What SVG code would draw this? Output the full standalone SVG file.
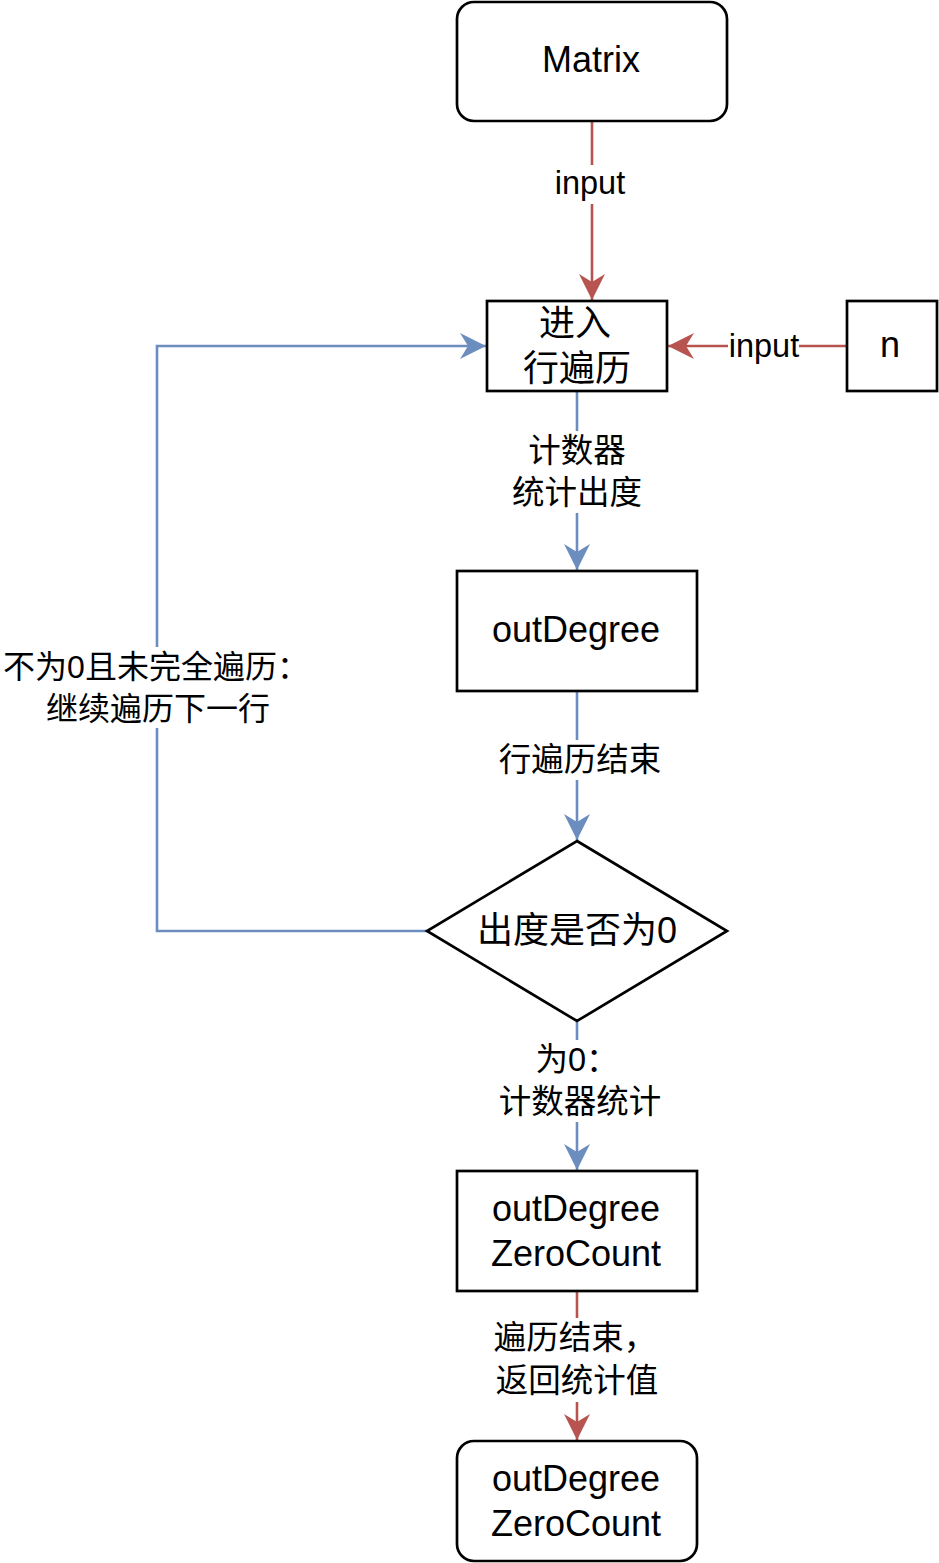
<svg xmlns="http://www.w3.org/2000/svg" width="939" height="1563" viewBox="0 0 939 1563">
<style>
.node{fill:#ffffff;stroke:#000000;stroke-width:2.7}
.nt{font-family:"Liberation Sans","Noto Sans CJK SC",sans-serif;font-size:36px;fill:#000000;text-anchor:middle}
.lt{font-family:"Liberation Sans","Noto Sans CJK SC",sans-serif;font-size:32.5px;fill:#000000;text-anchor:middle}
.red{fill:none;stroke:#b85450;stroke-width:2.6}
.blue{fill:none;stroke:#6c8ebf;stroke-width:2.6}
.bg{fill:#ffffff}
</style>
<defs>
<marker id="ar" markerUnits="userSpaceOnUse" viewBox="0 0 26 26" markerWidth="26" markerHeight="26" refX="26" refY="13" orient="auto">
<path d="M26,13 L0,0 L8,13 L0,26 Z" fill="#b85450"/>
</marker>
<marker id="ab" markerUnits="userSpaceOnUse" viewBox="0 0 26 26" markerWidth="26" markerHeight="26" refX="26" refY="13" orient="auto">
<path d="M26,13 L0,0 L8,13 L0,26 Z" fill="#6c8ebf"/>
</marker>
</defs>
<g id="connectors">
<path class="red" d="M592,121 L592,300" marker-end="url(#ar)"/>
<rect class="bg" x="553" y="165" width="76" height="39"/>
<text class="lt" x="590" y="194">input</text>
<path class="red" d="M847,346 L668,346" marker-end="url(#ar)"/>
<rect class="bg" x="728" y="330" width="71" height="34"/>
<text class="lt" x="764" y="357">input</text>
<path class="blue" d="M577,391 L577,570" marker-end="url(#ab)"/>
<rect class="bg" x="510" y="431" width="135" height="82"/>
<text class="lt" x="577" y="462">计数器</text>
<text class="lt" x="577" y="504">统计出度</text>
<path class="blue" d="M577,691 L577,840" marker-end="url(#ab)"/>
<rect class="bg" x="496" y="740" width="168" height="40"/>
<text class="lt" x="580" y="771">行遍历结束</text>
<path class="blue" d="M427,931 L157,931 L157,346 L486,346" marker-end="url(#ab)"/>
<rect class="bg" x="0" y="647" width="310" height="81"/>
<text class="lt" x="156" y="678" style="font-size:32px">不为0且未完全遍历：</text>
<text class="lt" x="158" y="720" style="font-size:32px">继续遍历下一行</text>
<path class="blue" d="M577,1021 L577,1170" marker-end="url(#ab)"/>
<rect class="bg" x="496" y="1040" width="168" height="82"/>
<text class="lt" x="577" y="1071">为0：</text>
<text class="lt" x="580" y="1113">计数器统计</text>
<path class="red" d="M577,1291 L577,1440" marker-end="url(#ar)"/>
<rect class="bg" x="494" y="1318" width="168" height="84"/>
<text class="lt" x="575" y="1349">遍历结束，</text>
<text class="lt" x="577" y="1392">返回统计值</text>
</g>
<g id="matrix">
<rect class="node" x="457" y="2" width="270" height="119" rx="17" ry="17"/>
<text class="nt" x="591" y="72">Matrix</text>
</g>
<g id="row-traverse">
<rect class="node" x="487" y="301" width="180" height="90"/>
<text class="nt" x="575" y="336">进入</text>
<text class="nt" x="577" y="381">行遍历</text>
</g>
<g id="n">
<rect class="node" x="847" y="301" width="90" height="90"/>
<text class="nt" x="890" y="357">n</text>
</g>
<g id="outDegree">
<rect class="node" x="457" y="571" width="240" height="120"/>
<text class="nt" x="576" y="642">outDegree</text>
</g>
<g id="decision">
<path class="node" d="M577,841 L727,931 L577,1021 L427,931 Z"/>
<text class="nt" x="577" y="943">出度是否为0</text>
</g>
<g id="zeroCount">
<rect class="node" x="457" y="1171" width="240" height="120"/>
<text class="nt" x="576" y="1221">outDegree</text>
<text class="nt" x="576" y="1266">ZeroCount</text>
</g>
<g id="result">
<rect class="node" x="457" y="1441" width="240" height="120" rx="17" ry="17"/>
<text class="nt" x="576" y="1491">outDegree</text>
<text class="nt" x="576" y="1536">ZeroCount</text>
</g>
</svg>
